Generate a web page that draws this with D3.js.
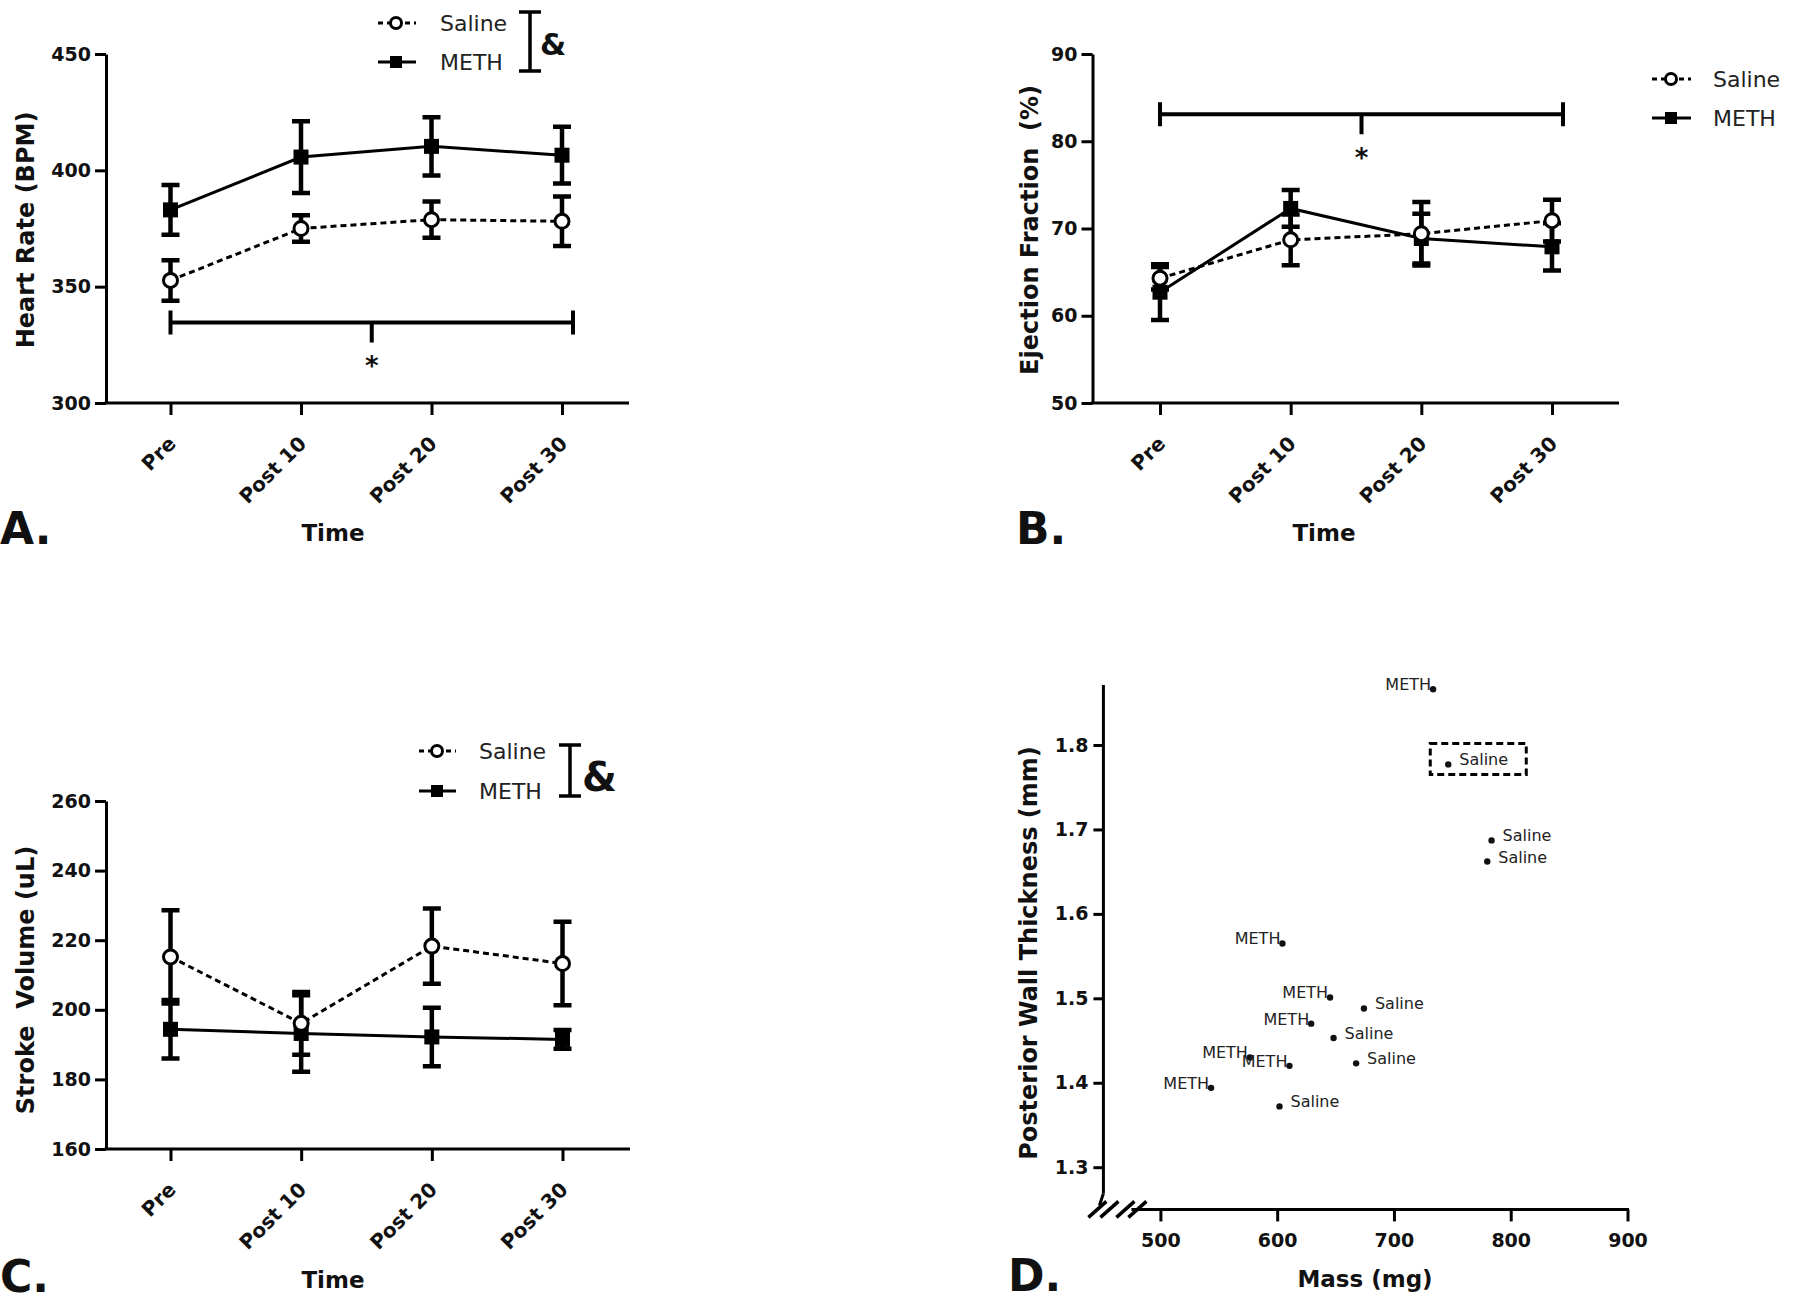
<!DOCTYPE html>
<html><head><meta charset="utf-8">
<script src="https://cdn.jsdelivr.net/npm/d3@7"></script>
<style>body{margin:0;background:#fff} svg{display:block} text{font-family:"DejaVu Sans",sans-serif}</style>
</head><body>
<svg id="c" width="1800" height="1312"></svg>
<script>
// ---------- DATA ----------
const categories = ["Pre", "Post 10", "Post 20", "Post 30"];
const groups = ["Saline", "METH"];

// A. Heart rate (BPM)
const hrSaline    = [352.7, 375.0, 378.8, 378.1];
const hrSalineErr = [8.7, 5.7, 7.8, 10.6];
const hrMeth      = [383.0, 405.7, 410.3, 406.5];
const hrMethErr   = [10.7, 15.4, 12.5, 12.2];
const hrTicks     = [300, 350, 400, 450];
const hrSig       = 334.6;

// B. Ejection fraction (%)
const efSaline    = [64.3, 68.7, 69.4, 70.9];
const efSalineErr = [1.3, 2.9, 3.65, 2.4];
const efMeth      = [62.7, 72.3, 68.85, 67.9];
const efMethErr   = [3.2, 2.1, 2.85, 2.7];
const efTicks     = [50, 60, 70, 80, 90];
const efSig       = 83.1;

// C. Stroke volume (uL)
const svSaline    = [215.2, 196.1, 218.3, 213.3];
const svSalineErr = [13.4, 9.0, 10.8, 12.0];
const svMeth      = [194.4, 193.2, 192.2, 191.5];
const svMethErr   = [8.4, 11.0, 8.4, 2.7];
const svTicks     = [160, 180, 200, 220, 240, 260];

// D. Posterior wall thickness vs mass
const pwGroup = ["METH","Saline","Saline","Saline","METH","METH","Saline","METH","Saline","METH","Saline","METH","Saline","METH"];
const pwMass  = [733.5, 746.5, 783.6, 779.9, 604.5, 645.3, 674.3, 629.1, 648.3, 610.5, 667.6, 543.4, 602.0, 576.6];
const pwThick = [1.866, 1.777, 1.687, 1.662, 1.565, 1.501, 1.488, 1.470, 1.453, 1.420, 1.423, 1.394, 1.372, 1.430];
const pwBoxed = [false, true, false, false, false, false, false, false, false, false, false, false, false, false];
const massTicks  = [500, 600, 700, 800, 900];
const thickTicks = [1.3, 1.4, 1.5, 1.6, 1.7, 1.8];

// ---------- DRAWING ----------
const svg = d3.select("#c");
const BLACK = "#000";

function styleTicks(sel, size) {
  sel.selectAll(".tick line").attr("stroke", BLACK).attr("stroke-width", 3);
  sel.selectAll(".tick text").attr("font-size", size).attr("font-weight", "bold")
     .attr("font-family", "DejaVu Sans").attr("fill", "#111");
}

function legend(g, L) {
  const rows = [{name: groups[0], y: L.y0, dashed: true}, {name: groups[1], y: L.y1, dashed: false}];
  rows.forEach(r => {
    g.append("line").attr("x1", L.lx0).attr("x2", L.lx1).attr("y1", r.y).attr("y2", r.y)
      .attr("stroke", BLACK).attr("stroke-width", 3).attr("stroke-dasharray", r.dashed ? "5,4" : null);
    if (r.dashed) {
      g.append("circle").attr("cx", L.sx).attr("cy", r.y).attr("r", 5.5)
        .attr("fill", "#fff").attr("stroke", BLACK).attr("stroke-width", 3);
    } else {
      g.append("rect").attr("x", L.sx - 6).attr("y", r.y - 6).attr("width", 12).attr("height", 12).attr("fill", BLACK);
    }
    g.append("text").attr("x", L.tx).attr("y", r.y + 8).attr("font-size", 22).attr("fill", "#222").text(r.name);
  });
  if (L.bx) {
    g.append("path").attr("d", `M${L.bx - 11},${L.by0}H${L.bx + 11}M${L.bx},${L.by0}V${L.by1}M${L.bx - 11},${L.by1}H${L.bx + 11}`)
      .attr("stroke", BLACK).attr("stroke-width", 3.5).attr("fill", "none");
    g.append("text").attr("x", L.ampX).attr("y", L.ampY).attr("font-size", L.ampSize)
      .attr("font-weight", "bold").attr("fill", "#111").text("&");
  }
}

function linePanel(L, D) {
  const g = svg.append("g");
  const y = d3.scaleLinear().domain([D.ticks[0], D.ticks[D.ticks.length - 1]]).range([L.bottom, L.top]);
  const x = d3.scalePoint().domain(categories).range([L.cat0, L.cat1]);

  // y axis
  const ya = g.append("g").attr("transform", `translate(${L.ax},0)`)
    .call(d3.axisLeft(y).tickValues(D.ticks).tickSize(11).tickPadding(4).tickSizeOuter(0).tickFormat(d3.format("d")));
  ya.select(".domain").attr("stroke", BLACK).attr("stroke-width", 3);
  styleTicks(ya, 19);

  // x axis
  const xa = g.append("g").attr("transform", `translate(0,${L.bottom})`)
    .call(d3.axisBottom(x).tickSize(12).tickSizeOuter(0));
  xa.select(".domain").remove();
  styleTicks(xa, 20);
  xa.selectAll(".tick text").attr("text-anchor", "end").attr("y", 0).attr("dy", 0)
    .attr("transform", "translate(6,42) rotate(-45)");
  g.append("line").attr("x1", L.ax - 1.5).attr("x2", L.axEnd).attr("y1", L.bottom).attr("y2", L.bottom)
    .attr("stroke", BLACK).attr("stroke-width", 3);

  // titles
  g.append("text").attr("transform", `translate(${L.ytX},${L.ytY}) rotate(-90)`).attr("text-anchor", "middle")
    .attr("font-size", 24).attr("font-weight", "bold").attr("fill", "#111").attr("xml:space", "preserve")
    .style("white-space", "pre").text(D.ytitle);
  g.append("text").attr("x", L.xtX).attr("y", L.xtY).attr("text-anchor", "middle")
    .attr("font-size", 23).attr("font-weight", "bold").attr("fill", "#111").text("Time");
  g.append("text").attr("x", L.letX).attr("y", L.letY).attr("font-size", 44).attr("font-weight", "bold")
    .attr("fill", "#111").text(D.letter);

  // lines
  const line = d3.line().x((d, i) => x(categories[i])).y(d => y(d));
  g.append("path").datum(D.saline).attr("d", line).attr("fill", "none").attr("stroke", BLACK)
    .attr("stroke-width", 3).attr("stroke-dasharray", "6,4");
  g.append("path").datum(D.meth).attr("d", line).attr("fill", "none").attr("stroke", BLACK).attr("stroke-width", 3);

  // error bars
  const bars = [];
  D.saline.forEach((v, i) => bars.push({c: categories[i], v, e: D.salineErr[i]}));
  D.meth.forEach((v, i) => bars.push({c: categories[i], v, e: D.methErr[i]}));
  g.append("g").selectAll("path").data(bars).join("path")
    .attr("d", d => {
      const cx = x(d.c), y1 = y(d.v + d.e), y2 = y(d.v - d.e);
      return `M${cx - 9},${y1}H${cx + 9}M${cx},${y1}V${y2}M${cx - 9},${y2}H${cx + 9}`;
    })
    .attr("stroke", BLACK).attr("stroke-width", 4.5).attr("fill", "none");

  // markers
  g.append("g").selectAll("rect").data(D.meth).join("rect")
    .attr("x", (d, i) => x(categories[i]) - 7.5).attr("y", d => y(d) - 7.5)
    .attr("width", 15).attr("height", 15).attr("fill", BLACK);
  g.append("g").selectAll("circle").data(D.saline).join("circle")
    .attr("cx", (d, i) => x(categories[i])).attr("cy", d => y(d)).attr("r", 7)
    .attr("fill", "#fff").attr("stroke", BLACK).attr("stroke-width", 3);

  // significance bar
  if (D.sig !== undefined) {
    const sy = y(D.sig), sx0 = x(categories[0]), sx1 = x(categories[3]) + 11, mid = (sx0 + sx1) / 2;
    g.append("path").attr("d", `M${sx0},${sy - 12}V${sy + 12}M${sx0},${sy}H${sx1}M${sx1},${sy - 12}V${sy + 12}M${mid},${sy}V${sy + 20}`)
      .attr("stroke", BLACK).attr("stroke-width", 4).attr("fill", "none");
    g.append("text").attr("x", mid).attr("y", sy + 53).attr("text-anchor", "middle")
      .attr("font-size", 26).attr("font-weight", "bold").attr("fill", "#111").text("*");
  }

  legend(g, L.leg);
}

linePanel(
  {ax: 106, axEnd: 629, top: 54, bottom: 403, cat0: 170.5, cat1: 562,
   ytX: 34, ytY: 230, xtX: 333, xtY: 541, letX: 0, letY: 544,
   leg: {y0: 23, y1: 62, lx0: 378, lx1: 416, sx: 396, tx: 440, bx: 530, by0: 12, by1: 71, ampX: 540, ampY: 55, ampSize: 30}},
  {ticks: hrTicks, saline: hrSaline, salineErr: hrSalineErr, meth: hrMeth, methErr: hrMethErr, sig: hrSig,
   ytitle: "Heart Rate (BPM)", letter: "A."});

linePanel(
  {ax: 1092.5, axEnd: 1619, top: 54, bottom: 403, cat0: 1160, cat1: 1552,
   ytX: 1038, ytY: 230, xtX: 1324, xtY: 541, letX: 1016, letY: 544,
   leg: {y0: 79, y1: 118, lx0: 1652, lx1: 1691, sx: 1671, tx: 1713}},
  {ticks: efTicks, saline: efSaline, salineErr: efSalineErr, meth: efMeth, methErr: efMethErr, sig: efSig,
   ytitle: "Ejection Fraction  (%)", letter: "B."});

linePanel(
  {ax: 106, axEnd: 630, top: 801, bottom: 1149, cat0: 170.5, cat1: 562.5,
   ytX: 34, ytY: 980, xtX: 333, xtY: 1288, letX: 0, letY: 1292,
   leg: {y0: 751, y1: 791, lx0: 419, lx1: 456, sx: 437, tx: 479, bx: 570, by0: 745, by1: 796, ampX: 582, ampY: 791, ampSize: 40}},
  {ticks: svTicks, saline: svSaline, salineErr: svSalineErr, meth: svMeth, methErr: svMethErr,
   ytitle: "Stroke  Volume (uL)", letter: "C."});

// Panel D
(function () {
  const g = svg.append("g");
  const x = d3.scaleLinear().domain([500, 900]).range([1160.4, 1627.5]);
  const y = d3.scaleLinear().domain([1.3, 1.8]).range([1167.2, 745]);
  const axX = x(450) + 1.4;     // y-axis position
  const axY = y(1.25);          // x-axis position

  const ya = g.append("g").attr("transform", `translate(${axX},0)`)
    .call(d3.axisLeft(y).tickValues(thickTicks).tickSize(10).tickPadding(5).tickFormat(d3.format(".1f")));
  ya.select(".domain").remove();
  styleTicks(ya, 19);
  g.append("line").attr("x1", axX).attr("x2", axX).attr("y1", y(1.871)).attr("y2", axY - 16)
    .attr("stroke", BLACK).attr("stroke-width", 3);

  const xa = g.append("g").attr("transform", `translate(0,${axY})`)
    .call(d3.axisBottom(x).tickValues(massTicks).tickSize(12).tickPadding(12).tickFormat(d3.format("d")));
  xa.select(".domain").remove();
  styleTicks(xa, 19);
  g.append("line").attr("x1", x(481)).attr("x2", x(900) + 1.5).attr("y1", axY).attr("y2", axY)
    .attr("stroke", BLACK).attr("stroke-width", 3);

  // axis break marks
  const brk = [axX - 6, axX + 6, axX + 22, axX + 34];
  g.append("g").selectAll("line").data(brk).join("line")
    .attr("x1", d => d - 9).attr("y1", axY + 8).attr("x2", d => d + 9).attr("y2", axY - 8)
    .attr("stroke", BLACK).attr("stroke-width", 3.5);
  g.append("path").attr("d", `M${axX},${axY - 16}L${axX - 4},${axY - 4}M${axX + 28},${axY}H${x(481)}`)
    .attr("stroke", BLACK).attr("stroke-width", 3).attr("fill", "none");

  // titles
  g.append("text").attr("transform", `translate(1037,953) rotate(-90)`).attr("text-anchor", "middle")
    .attr("font-size", 24).attr("font-weight", "bold").attr("fill", "#111").text("Posterior Wall Thickness (mm)");
  g.append("text").attr("x", 1365).attr("y", 1287).attr("text-anchor", "middle")
    .attr("font-size", 23).attr("font-weight", "bold").attr("fill", "#111").text("Mass (mg)");
  g.append("text").attr("x", 1008).attr("y", 1291).attr("font-size", 44).attr("font-weight", "bold")
    .attr("fill", "#111").text("D.");

  const pts = pwMass.map((m, i) => ({m, t: pwThick[i], grp: pwGroup[i], boxed: pwBoxed[i]}));
  g.append("g").selectAll("circle").data(pts).join("circle")
    .attr("cx", d => x(d.m)).attr("cy", d => y(d.t)).attr("r", 3.2).attr("fill", "#111");
  g.append("g").selectAll("text").data(pts).join("text")
    .attr("x", d => d.grp === "METH" ? x(d.m) - 2 : x(d.m) + 11)
    .attr("y", d => y(d.t) + 1)
    .attr("text-anchor", d => d.grp === "METH" ? "end" : "start")
    .attr("font-size", 16).attr("fill", "#222").text(d => d.grp);
  g.append("g").selectAll("rect").data(pts.filter(d => d.boxed)).join("rect")
    .attr("x", d => x(d.m) - 18).attr("y", d => y(d.t) - 21).attr("width", 96).attr("height", 31)
    .attr("fill", "none").attr("stroke", BLACK).attr("stroke-width", 3).attr("stroke-dasharray", "7,4");
})();
</script>
</body></html>
